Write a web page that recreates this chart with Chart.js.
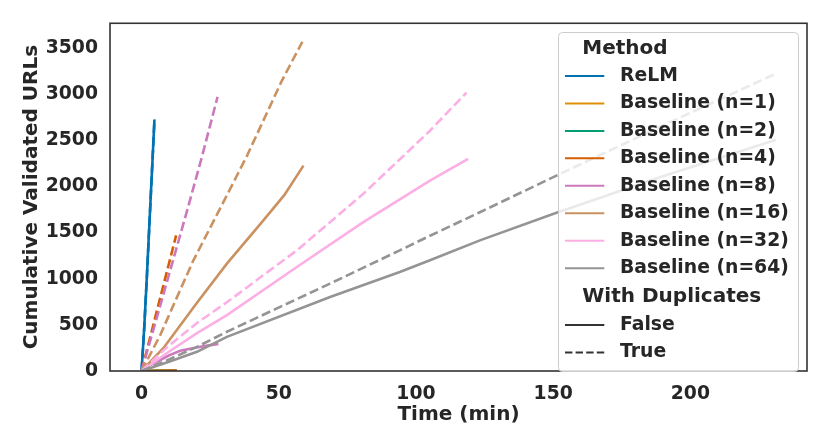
<!DOCTYPE html>
<html>
<head>
<meta charset="utf-8">
<script src="https://cdn.jsdelivr.net/npm/chart.js@4.4.0/dist/chart.umd.min.js"></script>
<style>
  html, body { margin: 0; padding: 0; background: #fff; }
  #wrap { width: 830px; height: 447px; }
</style>
</head>
<body>
<div id="wrap"><canvas id="chart"></canvas></div>
<script>
// time in minutes / cumulative validated URLs
const relmT = [0, 1, 2, 3, 4, 4.7];
const relmN = [0, 480, 1060, 1680, 2290, 2725];

const n1T = [0, 6, 12.5];
const n1N = [0, 1, 2];
const n2T = [0, 6, 12.7];
const n2N = [0, 2, 3];

const n4T = [0, 12.9];
const n4N = [0, 5];
const n4dT = [0, 6, 12.6];
const n4dN = [0, 700, 1469];

const n8T = [0, 3, 6.8, 10, 14.1, 20, 24, 28.0];
const n8N = [0, 60, 119, 170, 219, 255, 275, 292];
const n8dT = [0, 5, 11, 17, 22, 27.7];
const n8dN = [0, 520, 1150, 1780, 2320, 2970];

const n16T = [0, 8.0, 20.2, 31.1, 44.4, 52, 59.0];
const n16N = [0, 250, 740, 1163, 1631, 1905, 2225];
const n16dT = [0, 6.8, 11.6, 18.9, 32.3, 38.4, 51.1, 58.6];
const n16dN = [0, 389, 713, 1199, 1973, 2330, 3143, 3567];

const n32T = [0, 9, 20.2, 31.1, 56.6, 80.8, 105.1, 119.0];
const n32N = [0, 190, 410, 605, 1127, 1612, 2063, 2297];
const n32dT = [0, 9.2, 20.2, 31.1, 56.6, 80.8, 105.1, 118.4];
const n32dN = [0, 256, 520, 745, 1307, 1919, 2603, 3016];

const n64T = [0, 10, 20.2, 31.1, 68.7, 94.1, 105.1, 123.3, 151.2, 190, 231.2];
const n64N = [0, 100, 208, 370, 802, 1072, 1199, 1415, 1714, 2110, 2505];
const n64dT = [0, 10, 20.2, 31.1, 68.7, 94.1, 105.1, 123.3, 151.2, 190, 231.2];
const n64dN = [0, 125, 262, 425, 947, 1307, 1465, 1720, 2117, 2660, 3222];

const methods = ['ReLM', 'Baseline (n=1)', 'Baseline (n=2)', 'Baseline (n=4)', 'Baseline (n=8)',
                 'Baseline (n=16)', 'Baseline (n=32)', 'Baseline (n=64)'];
const colors = ['#0173b2', '#de8f05', '#029e73', '#d55e00', '#cc78bc', '#ca9161', '#fbafe4', '#949494'];
const yTicks = [0, 500, 1000, 1500, 2000, 2500, 3000, 3500];
const xTicks = [0, 50, 100, 150, 200];

const FONT = '"DejaVu Sans", "Liberation Sans", sans-serif';
const INK = '#262626';

function pts(t, n) { return t.map((v, i) => ({ x: v, y: n[i] })); }

// [method index, dashed, times, counts]
const series = [
  [0, false, relmT, relmN], [0, true, relmT, relmN],
  [1, false, n1T, n1N],
  [2, false, n2T, n2N],
  [3, false, n4T, n4N], [3, true, n4dT, n4dN],
  [4, false, n8T, n8N], [4, true, n8dT, n8dN],
  [5, false, n16T, n16N], [5, true, n16dT, n16dN],
  [6, false, n32T, n32N], [6, true, n32dT, n32dN],
  [7, false, n64T, n64N], [7, true, n64dT, n64dN]
];

const datasets = series.map((s, i) => ({
  label: methods[s[0]] + (s[1] ? ' (dup)' : ''),
  data: pts(s[2], s[3]),
  borderColor: colors[s[0]],
  borderWidth: 2.6,
  borderDash: s[1] ? [9.25, 4] : [],
  pointRadius: 0,
  fill: false,
  tension: 0,
  order: -i
}));

// box round the plot area, drawn over the lines like matplotlib spines
const framePlugin = {
  id: 'frame',
  afterDatasetsDraw(chart) {
    const a = chart.chartArea, ctx = chart.ctx;
    ctx.save();
    ctx.strokeStyle = '#333333';
    ctx.lineWidth = 1.6;
    ctx.strokeRect(a.left, a.top, a.right - a.left, a.bottom - a.top);
    ctx.restore();
  }
};

// seaborn style legend with two sections
const legendPlugin = {
  id: 'seabornLegend',
  afterDraw(chart) {
    const ctx = chart.ctx;
    const bx = 558.5, by = 32.5, bw = 240, bh = 339, r = 4;
    ctx.save();
    ctx.beginPath();
    ctx.moveTo(bx + r, by);
    ctx.arcTo(bx + bw, by, bx + bw, by + bh, r);
    ctx.arcTo(bx + bw, by + bh, bx, by + bh, r);
    ctx.arcTo(bx, by + bh, bx, by, r);
    ctx.arcTo(bx, by, bx + bw, by, r);
    ctx.closePath();
    ctx.fillStyle = 'rgba(255,255,255,0.8)';
    ctx.fill();
    ctx.strokeStyle = '#cccccc';
    ctx.lineWidth = 1;
    ctx.stroke();

    const step = 27.45;
    ctx.textBaseline = 'middle';
    ctx.textAlign = 'left';
    ctx.fillStyle = INK;
    ctx.font = 'bold 20px ' + FONT;
    ctx.fillText('Method', 582.3, 48.3);

    const swatch = (y, color, dash) => {
      ctx.beginPath();
      ctx.setLineDash(dash);
      ctx.strokeStyle = color;
      ctx.lineWidth = 2;
      ctx.moveTo(565, y);
      ctx.lineTo(604.3, y);
      ctx.stroke();
      ctx.setLineDash([]);
    };

    methods.forEach((m, i) => {
      const y = 76 + step * i;
      swatch(y, colors[i], []);
      ctx.fillStyle = INK;
      ctx.font = 'bold 18.8px ' + FONT;
      ctx.fillText(m, 620, y);
    });

    ctx.fillStyle = INK;
    ctx.font = 'bold 20px ' + FONT;
    ctx.fillText('With Duplicates', 582.3, 296.7);

    const styles = [['False', []], ['True', [7.4, 3.2]]];
    styles.forEach((s, i) => {
      const y = 325 + step * i;
      swatch(y, '#333333', s[1]);
      ctx.fillStyle = INK;
      ctx.font = 'bold 18.8px ' + FONT;
      ctx.fillText(s[0], 620, y);
    });
    ctx.restore();
  }
};

new Chart(document.getElementById('chart'), {
  type: 'line',
  data: { datasets: datasets },
  options: {
    responsive: true,
    maintainAspectRatio: false,
    animation: false,
    layout: { padding: { left: 0, top: 22, right: 23, bottom: 0 } },
    plugins: {
      legend: { display: false },
      tooltip: { enabled: false }
    },
    scales: {
      x: {
        type: 'linear',
        min: -11.5,
        max: 242.5,
        grid: { display: false, drawTicks: false },
        border: { display: false },
        afterBuildTicks(scale) { scale.ticks = xTicks.map(v => ({ value: v })); },
        afterFit(scale) { scale.height = 76; },
        ticks: {
          padding: 12,
          color: INK,
          callback: v => String(v),
          font: { family: FONT, size: 18.8, weight: 'bold' }
        },
        title: {
          display: true,
          text: 'Time (min)',
          color: INK,
          padding: { top: 0, bottom: 20 },
          font: { family: FONT, size: 20, weight: 'bold' }
        }
      },
      y: {
        type: 'linear',
        min: 0,
        max: 3767,
        grid: { display: false, drawTicks: false },
        border: { display: false },
        afterBuildTicks(scale) { scale.ticks = yTicks.map(v => ({ value: v })); },
        afterFit(scale) { scale.width = 110; },
        ticks: {
          padding: 12,
          color: INK,
          callback: v => String(v),
          font: { family: FONT, size: 18.8, weight: 'bold' }
        },
        title: {
          display: true,
          text: 'Cumulative Validated URLs',
          color: INK,
          padding: { top: 20, bottom: 0 },
          font: { family: FONT, size: 20, weight: 'bold' }
        }
      }
    }
  },
  plugins: [framePlugin, legendPlugin]
});
</script>
</body>
</html>
